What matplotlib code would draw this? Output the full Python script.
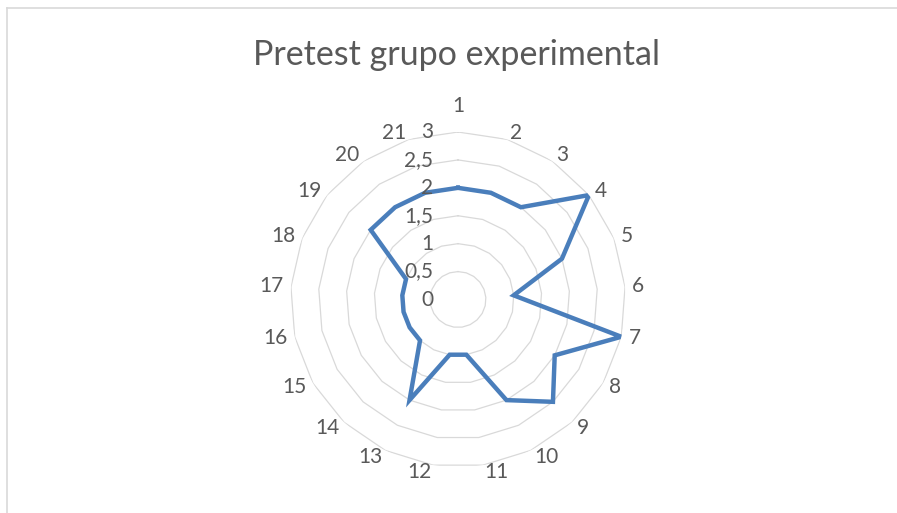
import numpy as np
import matplotlib
matplotlib.use("Agg")
import matplotlib.pyplot as plt
from matplotlib.lines import Line2D

# pretest scores per item
categories = [str(i) for i in range(1, 22)]
values = [2, 2, 2, 3, 2, 1, 3, 2, 2.5, 2, 1, 1, 2, 1, 1, 1, 1, 1, 2, 2, 2]
rings = [0.5, 1, 1.5, 2, 2.5, 3]
ring_labels = ["0", "0,5", "1", "1,5", "2", "2,5", "3"]

plt.rcParams["font.family"] = ["Lato", "DejaVu Sans"]
text_color = "#595959"
grid_color = "#d9d9d9"
line_color = "#4a7ebb"

W, H = 897, 513
fig = plt.figure(figsize=(W / 100, H / 100), dpi=100)

# chart frame (only top and left edges fall inside the image)
fig.add_artist(Line2D([7 / W, 1], [1 - 8 / H, 1 - 8 / H], color=grid_color, lw=1.2))
fig.add_artist(Line2D([7 / W, 7 / W], [0, 1 - 8 / H], color=grid_color, lw=1.2))

fig.text(456 / W, 1 - 65 / H, "Pretest grupo experimental", ha="center", va="baseline",
         fontsize=24.5, color=text_color)

cx, cy, R = 458, 299.5, 167.5
ax = fig.add_axes([(cx - R) / W, (H - cy - R) / H, 2 * R / W, 2 * R / H], projection="polar")
ax.set_theta_zero_location("N")
ax.set_theta_direction(-1)
ax.set_ylim(0, 3)
ax.grid(False)
ax.spines["polar"].set_visible(False)
ax.set_xticks([])
ax.set_yticks([])
ax.patch.set_alpha(0)

n = len(categories)
theta = np.arange(n) * 2 * np.pi / n
theta_c = np.append(theta, theta[0])

# polygon gridlines
for r in rings:
    ax.plot(theta_c, [r] * (n + 1), color=grid_color, lw=0.9, zorder=1)

# data line
vals_c = values + values[:1]
ax.plot(theta_c, vals_c, color=line_color, lw=3.2, solid_joinstyle="miter", zorder=3)

# category labels: anchored on the side facing the chart, vertically centred
for i, (t, lab) in enumerate(zip(theta, categories)):
    if i == 0:
        ax.text(t, 3.28, lab, ha="center", va="bottom", fontsize=15, color=text_color)
        continue
    ha = "left" if np.sin(t) > 0 else "right"
    ax.text(t, 3.13, lab, ha=ha, va="center", fontsize=15, color=text_color)

# radial value labels along the vertical axis
for i, lab in enumerate(ring_labels):
    r = i * 0.5
    fig.text((cx - 25) / W, (H - cy + r * R / 3) / H, lab, ha="right", va="center",
             fontsize=15, color=text_color)

fig.savefig("out.png", dpi=100)
